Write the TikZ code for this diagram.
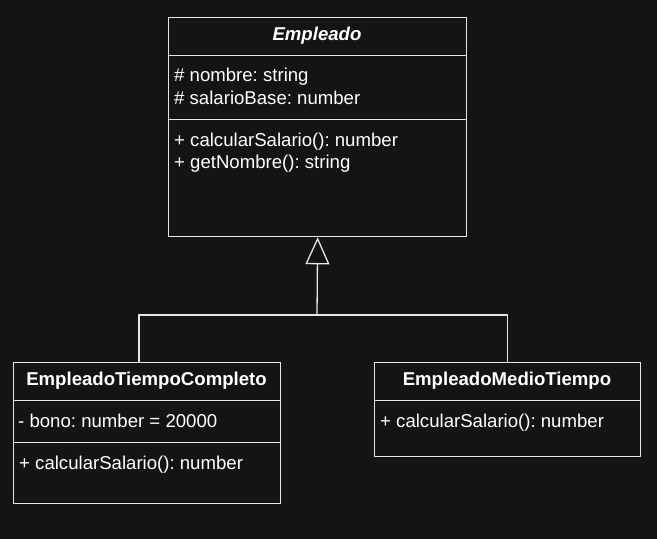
\documentclass[tikz,border=0pt]{standalone}
\usepackage{fontspec}
\setmainfont{Liberation Sans}
\usetikzlibrary{arrows.meta}
\definecolor{bg}{HTML}{141414}
\definecolor{ln}{HTML}{E6E6E6}
\frenchspacing
\begin{document}
\begin{tikzpicture}[x=1pt,y=-1pt,
  box/.style={draw=ln,line width=1.3pt,anchor=north west,inner sep=0pt},
  sep/.style={draw=ln,line width=1pt},
  txt/.style={text=white,anchor=base west,inner sep=0pt,font=\fontsize{18.6}{22}\selectfont\frenchspacing},
  ttl/.style={text=white,anchor=base,inner sep=0pt,font=\fontsize{18.6}{22}\selectfont\bfseries},
  conn/.style={draw=ln,line width=1.3pt}]
\fill[bg] (0,0) rectangle (657,539);
\useasboundingbox (0,0) rectangle (657,539);
% Empleado
\node[box,minimum width=298pt,minimum height=219pt] (emp) at (168,17) {};
\draw[sep] (168,55) -- (466,55);
\draw[sep] (168,119) -- (466,119);
\node[ttl,font=\fontsize{18.6}{22}\selectfont\bfseries\itshape] (empt) at (317,40) {Empleado};
\node[txt] (a1) at (174,81) {\# nombre: string};
\node[txt] (a2) at (174,104) {\# salarioBase: number};
\node[txt] (m1) at (174,146) {+ calcularSalario(): number};
\node[txt] (m2) at (174,168) {+ getNombre(): string};
% EmpleadoTiempoCompleto
\node[box,minimum width=267pt,minimum height=141pt] (etc) at (13,362) {};
\draw[sep] (13,400) -- (280,400);
\draw[sep] (13,442) -- (280,442);
\node[ttl] (etct) at (146.5,385) {EmpleadoTiempoCompleto};
\node[txt] (b1) at (18,427) {- bono: number = 20000};
\node[txt] (b2) at (19,469) {+ calcularSalario(): number};
% EmpleadoMedioTiempo
\node[box,minimum width=266pt,minimum height=94pt] (emt) at (374,362) {};
\draw[sep] (374,400) -- (640,400);
\node[ttl] (emtt) at (507,385) {EmpleadoMedioTiempo};
\node[txt] (c1) at (380,427) {+ calcularSalario(): number};
% inheritance
\coordinate (j) at (317,315);
\coordinate (lt) at (139,362);
\draw[conn,-{Triangle[open,length=27pt,width=24pt,line width=1.3pt]}] (j) -- (emp.south);
\draw[conn] (lt) |- (j) -| (emt.north);
\end{tikzpicture}
\end{document}
